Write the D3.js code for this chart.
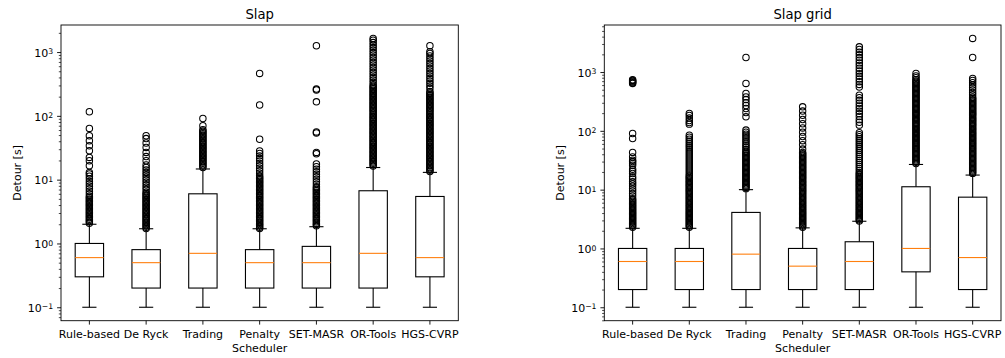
<!DOCTYPE html>
<html>
<head>
<meta charset="utf-8">
<script src="https://cdn.jsdelivr.net/npm/d3@7"></script>
<style>
  html, body { margin: 0; padding: 0; background: #fff; }
  svg { display: block; font-family: "DejaVu Sans", sans-serif; }
</style>
</head>
<body>
<svg id="chart" width="1005" height="358"></svg>
<script>
const schedulers = ["Rule-based", "De Ryck", "Trading", "Penalty", "SET-MASR", "OR-Tools", "HGS-CVRP"];

// Slap: box statistics per scheduler, detour in seconds
const slapLow    = [0.1, 0.1, 0.1, 0.1, 0.1, 0.1, 0.1];
const slapQ1     = [0.3, 0.2, 0.2, 0.2, 0.2, 0.2, 0.3];
const slapMedian = [0.6, 0.5, 0.7, 0.5, 0.5, 0.7, 0.6];
const slapQ3     = [1.0, 0.8, 6.0, 0.8, 0.9, 6.7, 5.45];
const slapHigh   = [2.0, 1.7, 14.7, 1.7, 1.83, 15.5, 13];
const slapOutliers = [
  [2.08,2.18,2.29,2.4,2.52,2.65,2.78,2.92,3.07,3.22,3.38,3.55,3.73,3.92,4.11,4.32,4.53,4.76,5.0,5.25,5.51,
   6.0,6.6,7.2,7.9,8.6,9.4,10.3,11.3,12.3,13,16.5,19.8,22.3,28.4,34,40.7,48.7,63.5,116],
  [1.71,1.8,1.89,1.98,2.08,2.18,2.29,2.4,2.52,2.65,2.78,2.92,3.07,3.22,3.38,3.55,3.73,3.92,4.11,4.32,4.53,4.76,5.0,5.25,5.51,5.79,6.08,6.38,
   7.0,7.6,8.3,9.1,10.0,10.9,11.9,13.0,14.2,15.5,17.0,19.8,23,26.7,32,37.5,44,48.7],
  [15.5,16.3,17.1,18.0,18.9,19.8,20.8,21.8,22.9,24.0,25.2,26.5,27.8,29.2,30.7,32.2,33.8,35.5,37.3,39.2,41.1,43.2,45.3,47.6,50.0,52.5,55.1,57.9,60.8,
   70,91],
  [1.71,1.8,1.89,1.98,2.08,2.18,2.29,2.4,2.52,2.65,2.78,2.92,3.07,3.22,3.38,3.55,3.73,3.92,4.11,4.32,4.53,4.76,5.0,5.25,5.51,5.79,6.08,6.38,6.7,7.04,7.39,7.76,8.15,8.56,8.99,9.44,9.91,10.4,10.9,11.5,
   12.6,13.8,15.1,16.5,18.0,19.7,21.6,23.6,25.8,28.2,43,148,462],
  [1.89,1.98,2.08,2.18,2.29,2.4,2.52,2.65,2.78,2.92,3.07,3.22,3.38,3.55,3.73,3.92,4.11,4.32,4.53,4.76,5.0,5.25,5.51,5.79,6.08,6.38,6.7,7.04,7.39,7.76,
   8.5,9.3,10.2,11.1,12.2,13.3,14.6,16.0,17.6,25.5,26.7,54,56,166,255,263,1256],
  [16.3,17.1,18.0,18.9,19.8,20.8,21.8,22.9,24.0,25.2,26.5,27.8,29.2,30.7,32.2,33.8,35.5,37.3,39.2,41.1,43.2,45.3,47.6,50.0,52.5,55.1,57.9,60.8,63.8,67.0,70.4,73.9,77.6,81.5,85.6,89.9,94.4,99.1,
   104,110,116,122,128,134,141,148,155,163,171,180,189,198,208,218,229,240,252,265,278,292,307,
   335,366,400,438,479,524,573,627,686,750,821,898,982,1074,1175,1286,1407,1539,1634],
  [13.4,14.1,14.8,15.5,16.3,17.1,18.0,18.9,19.8,20.8,21.8,22.9,24.0,25.2,26.5,27.8,29.2,30.7,32.2,33.8,35.5,37.3,39.2,41.1,43.2,45.3,47.6,50.0,52.5,55.1,57.9,60.8,63.8,67.0,70.4,73.9,77.6,81.5,85.6,89.9,94.4,99.1,
   104,110,116,122,128,134,141,148,155,163,171,180,189,198,208,218,229,240,
   270,295,323,353,386,423,462,506,553,605,662,724,792,866,948,1010,1256]
];

// Slap grid: box statistics per scheduler, detour in seconds
const gridLow    = [0.1, 0.1, 0.1, 0.1, 0.1, 0.1, 0.1];
const gridQ1     = [0.2, 0.2, 0.2, 0.2, 0.2, 0.4, 0.2];
const gridMedian = [0.6, 0.6, 0.8, 0.5, 0.6, 1.0, 0.7];
const gridQ3     = [1.0, 1.0, 4.1, 1.0, 1.3, 11.2, 7.45];
const gridHigh   = [2.2, 2.2, 10.0, 2.24, 2.9, 26.8, 17.7];
const gridOutliers = [
  [2.29,2.4,2.52,2.65,2.78,2.92,3.07,3.22,3.38,3.55,3.73,3.92,4.11,4.32,4.53,4.76,5.0,5.25,5.51,5.79,6.08,6.38,6.7,7.04,
   7.8,8.6,9.5,10.4,11.5,12.6,13.6,15.2,16.5,18.8,20.5,22.3,26,28,30,31.7,36,43,74,90,640,660,680,700,720,740],
  [2.29,2.4,2.52,2.65,2.78,2.92,3.07,3.22,3.38,3.55,3.73,3.92,4.11,4.32,4.53,4.76,5.0,5.25,5.51,5.79,6.08,6.38,6.7,7.04,7.39,7.76,8.15,8.56,8.99,9.44,9.91,
   10.4,10.9,11.5,12.0,12.6,13.3,13.9,14.6,15.4,16.1,16.9,17.8,
   19.2,20.8,22.5,24.3,26.3,28.4,30.7,33.2,35.9,38.8,41.9,45.3,49,53,57,61.6,66.6,72,77.8,84,130,138,150,165,182,198],
  [10.4,10.9,11.5,12.0,12.6,13.3,13.9,14.6,15.4,16.1,16.9,17.8,18.7,19.6,20.6,21.6,22.7,23.8,25.0,26.3,27.6,29.0,30.4,31.9,33.5,35.2,37.0,38.8,40.7,42.8,44.9,
   48,52,56,60,65,70,76,82,88,95,103,173,205,240,270,300,340,378,432,640,1770],
  [2.29,2.4,2.52,2.65,2.78,2.92,3.07,3.22,3.38,3.55,3.73,3.92,4.11,4.32,4.53,4.76,5.0,5.25,5.51,5.79,6.08,6.38,6.7,7.04,7.39,7.76,8.15,8.56,8.99,9.44,9.91,
   10.4,10.9,11.5,12.0,12.6,13.3,13.9,14.6,15.4,16.1,16.9,17.8,18.7,19.6,20.6,21.6,22.7,23.8,25.0,26.3,27.6,29.0,30.4,31.9,33.5,35.2,37.0,38.8,40.7,42.8,
   49,58,68,80,95,112,132,156,184,217,256],
  [2.92,3.07,3.22,3.38,3.55,3.73,3.92,4.11,4.32,4.53,4.76,5.0,5.25,5.51,5.79,6.08,6.38,6.7,7.04,7.39,7.76,8.15,8.56,8.99,9.44,9.91,
   10.4,10.9,11.5,12.0,12.6,13.3,13.9,14.6,15.4,16.1,16.9,17.8,18.7,19.6,
   21.2,22.9,24.8,26.8,29.0,31.3,33.8,36.6,39.5,42.7,46.2,49.9,54,58.3,63,68.1,73.6,79.6,86,93,
   125,140,155,175,195,215,240,265,295,330,365,405,
   555,615,685,760,845,940,1040,1160,1290,1430,1590,1760,1960,2180,2420,2685],
  [27.8,29.2,30.7,32.2,33.8,35.5,37.3,39.2,41.1,43.2,45.3,47.6,50.0,52.5,55.1,57.9,60.8,63.8,67.0,70.4,73.9,77.6,81.5,85.6,89.9,94.4,99.1,
   105,110,116,122,128,134,141,148,155,163,171,180,189,198,208,218,229,240,252,265,278,292,307,322,338,355,373,392,411,432,453,476,500,525,551,579,608,638,670,704,
   740,800,860,947],
  [18.9,19.8,20.8,21.8,22.9,24.0,25.2,26.5,27.8,29.2,30.7,32.2,33.8,35.5,37.3,39.2,41.1,43.2,45.3,47.6,50.0,52.5,55.1,57.9,60.8,63.8,67.0,70.4,73.9,77.6,81.5,85.6,89.9,94.4,99.1,
   105,110,116,122,128,134,141,148,155,163,171,180,189,198,208,218,229,240,252,265,278,292,307,322,338,355,373,
   410,450,495,545,600,660,720,778,1770,3726]
];

const panelTitles = ["Slap", "Slap grid"];
const xAxisLabel = "Scheduler";
const yAxisLabel = "Detour [s]";
const minorMultipliers = [2, 3, 4, 5, 6, 7, 8, 9];

const svg = d3.select("#chart");
const plotTop = 25, plotBottom = 320.7;
const lw = 1.1;
const tickLen = 3.9, minorLen = 2.2, tickPad = 3.9;

const panels = [
  { title: panelTitles[0], left: 61, right: 458.3, labelX: 21,
    low: slapLow, q1: slapQ1, med: slapMedian, q3: slapQ3, high: slapHigh, out: slapOutliers },
  { title: panelTitles[1], left: 604.3, right: 1001, labelX: 563.5,
    low: gridLow, q1: gridQ1, med: gridMedian, q3: gridQ3, high: gridHigh, out: gridOutliers }
];

function drawPanel(p) {
  const all = [].concat(p.low, p.high, ...p.out);
  const lo = Math.log10(d3.min(all)), hi = Math.log10(d3.max(all));
  const pad = (hi - lo) * 0.05;
  const y = d3.scaleLog().domain([10 ** (lo - pad), 10 ** (hi + pad)]).range([plotBottom, plotTop]);
  const x = d3.scaleBand().domain(schedulers).range([p.left, p.right]).paddingInner(0).paddingOuter(0);
  const bw = x.bandwidth();

  const g = svg.append("g");

  // log ticks: decades and their 2..9 multiples inside the domain
  const [d0, d1] = y.domain();
  const majors = [], minors = [];
  for (let k = Math.floor(Math.log10(d0)); k <= Math.ceil(Math.log10(d1)); k++) {
    const base = 10 ** k;
    if (base >= d0 && base <= d1) majors.push(base);
    minorMultipliers.forEach(m => { const v = m * base; if (v >= d0 && v <= d1) minors.push(v); });
  }

  const minorAxis = g.append("g").attr("transform", `translate(${p.left},0)`)
    .call(d3.axisLeft(y).tickValues(minors).tickSize(minorLen).tickFormat(""));
  minorAxis.select(".domain").remove();
  minorAxis.selectAll(".tick line").attr("stroke", "#000").attr("stroke-width", 0.7);

  const yAxis = g.append("g").attr("transform", `translate(${p.left},0)`)
    .call(d3.axisLeft(y).tickValues(majors).tickSize(tickLen).tickPadding(tickPad).tickFormat(""));
  yAxis.select(".domain").remove();
  yAxis.selectAll(".tick line").attr("stroke", "#000").attr("stroke-width", 0.9);
  yAxis.selectAll(".tick text")
    .attr("font-family", '"DejaVu Sans", sans-serif')
    .attr("font-size", 11).attr("fill", "#000").attr("dy", "0.38em")
    .each(function (d) {
      const e = Math.round(Math.log10(d));
      const t = d3.select(this);
      t.append("tspan").text("10");
      t.append("tspan").attr("font-size", 7.7).attr("dy", -2.6)
        .text(e < 0 ? "\u2212" + Math.abs(e) : String(e));
    });

  const xAxis = g.append("g").attr("transform", `translate(0,${plotBottom})`)
    .call(d3.axisBottom(x).tickSize(tickLen).tickPadding(tickPad));
  xAxis.select(".domain").remove();
  xAxis.selectAll(".tick line").attr("stroke", "#000").attr("stroke-width", 0.9);
  xAxis.selectAll(".tick text")
    .attr("font-family", '"DejaVu Sans", sans-serif')
    .attr("font-size", 11).attr("fill", "#000").attr("dy", "0.82em");

  // boxes, whiskers, caps, medians and outliers
  schedulers.forEach((s, i) => {
    const cx = x(s) + bw / 2;
    const hb = bw * 0.25, hc = bw * 0.125;
    const b = g.append("g");
    b.append("line").attr("x1", cx).attr("x2", cx).attr("y1", y(p.q1[i])).attr("y2", y(p.low[i]))
      .attr("stroke", "#000").attr("stroke-width", lw);
    b.append("line").attr("x1", cx).attr("x2", cx).attr("y1", y(p.q3[i])).attr("y2", y(p.high[i]))
      .attr("stroke", "#000").attr("stroke-width", lw);
    [p.low[i], p.high[i]].forEach(v => {
      b.append("line").attr("x1", cx - hc).attr("x2", cx + hc).attr("y1", y(v)).attr("y2", y(v))
        .attr("stroke", "#000").attr("stroke-width", lw);
    });
    b.append("rect").attr("x", cx - hb).attr("width", 2 * hb)
      .attr("y", y(p.q3[i])).attr("height", y(p.q1[i]) - y(p.q3[i]))
      .attr("fill", "none").attr("stroke", "#000").attr("stroke-width", lw);
    b.append("line").attr("x1", cx - hb).attr("x2", cx + hb).attr("y1", y(p.med[i])).attr("y2", y(p.med[i]))
      .attr("stroke", "#ff7f0e").attr("stroke-width", lw);
    b.selectAll("circle").data(p.out[i]).join("circle")
      .attr("cx", cx).attr("cy", d => y(d)).attr("r", 3.2)
      .attr("fill", "none").attr("stroke", "#000").attr("stroke-width", 1.05);
  });

  // frame
  g.append("rect").attr("x", p.left).attr("y", plotTop)
    .attr("width", p.right - p.left).attr("height", plotBottom - plotTop)
    .attr("fill", "none").attr("stroke", "#000").attr("stroke-width", 0.9);

  const cxm = (p.left + p.right) / 2;
  g.append("text").attr("x", cxm).attr("y", 18.5).attr("text-anchor", "middle")
    .attr("font-size", 13.2).attr("fill", "#000").text(p.title);
  g.append("text").attr("x", cxm).attr("y", 352).attr("text-anchor", "middle")
    .attr("font-size", 11).attr("fill", "#000").text(xAxisLabel);
  g.append("text").attr("transform", `translate(${p.labelX},${(plotTop + plotBottom) / 2}) rotate(-90)`)
    .attr("text-anchor", "middle").attr("font-size", 11).attr("fill", "#000").text(yAxisLabel);
}

panels.forEach(drawPanel);
</script>
</body>
</html>
